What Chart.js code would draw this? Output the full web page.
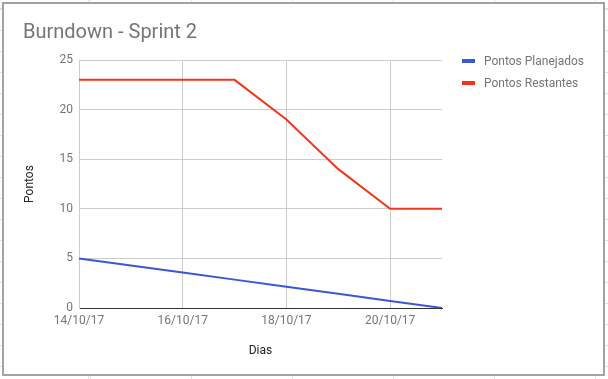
<!DOCTYPE html>
<html>
<head>
<meta charset="utf-8">
<script src="https://cdn.jsdelivr.net/npm/chart.js@4"></script>
<style>
    html, body {
        margin: 0;
        padding: 0;
        width: 608px;
        height: 379px;
        overflow: hidden;
        font-family: Roboto, sans-serif;
    }
    /* spreadsheet cells behind the chart */
    body {
        position: relative;
        background:
            repeating-linear-gradient(to right, #e2e2e2 0 1px, transparent 1px 101px) 90px 0,
            repeating-linear-gradient(to bottom, #e2e2e2 0 1px, transparent 1px 21px) 0 9px,
            #fff;
    }
    #frame {
        position: absolute;
        left: 2px;
        top: 2px;
        width: 603px;
        height: 374px;
        box-sizing: border-box;
        border: 2px solid #a3a3a3;
        background: #fff;
    }
    #burndown {
        position: absolute;
        left: 0;
        top: 0;
    }
    #legend {
        position: absolute;
        left: 462px;
        top: 50px;
        font-size: 12px;
        color: #757575;
    }
    .legend-item {
        display: flex;
        align-items: center;
        height: 22px;
        white-space: nowrap;
    }
    .legend-swatch {
        width: 13px;
        height: 4px;
        margin-right: 9px;
    }
</style>
</head>
<body>
<div id="frame"></div>
<canvas id="burndown" width="608" height="379"></canvas>
<div id="legend"></div>

<script>
/* =========================
   DATA
========================= */

const dias = ["14/10/17", "15/10/17", "16/10/17", "17/10/17", "18/10/17", "19/10/17", "20/10/17", "21/10/17"];
const pontosPlanejados = [5, 4.29, 3.57, 2.86, 2.14, 1.43, 0.71, 0];
const pontosRestantes = [23, 23, 23, 23, 19, 14, 10, 10];
const yTicks = [0, 5, 10, 15, 20, 25];

/* =========================
   CHART
========================= */

Chart.defaults.font.family = "Roboto";
Chart.defaults.font.size = 12;

const chart = new Chart(document.getElementById("burndown"), {
    type: "line",
    data: {
        labels: dias,
        datasets: [
            {
                label: "Pontos Planejados",
                data: pontosPlanejados,
                borderColor: "#3a57d5",
                borderWidth: 2,
                pointRadius: 0,
                tension: 0
            },
            {
                label: "Pontos Restantes",
                data: pontosRestantes,
                borderColor: "#f2361e",
                borderWidth: 2,
                pointRadius: 0,
                tension: 0
            }
        ]
    },
    options: {
        responsive: false,
        animation: false,
        layout: {
            padding: { left: 23, right: 166, top: 0, bottom: 21 }
        },
        plugins: {
            legend: { display: false },
            tooltip: { enabled: false },
            title: {
                display: true,
                text: "Burndown - Sprint 2",
                align: "start",
                color: "#757575",
                font: { size: 20, weight: "normal" },
                padding: { top: 21, bottom: 15 }
            }
        },
        scales: {
            x: {
                type: "category",
                offset: false,
                grid: {
                    color: ctx => ctx.index % 2 === 0 ? "#cccccc" : "transparent",
                    drawTicks: false
                },
                border: { color: "#333333", width: 1 },
                ticks: {
                    autoSkip: false,
                    maxRotation: 0,
                    color: "#757575",
                    padding: 6,
                    callback: function (value, index) {
                        return index % 2 === 0 ? this.getLabelForValue(value) : "";
                    }
                },
                title: {
                    display: true,
                    text: "Dias",
                    color: "#222222",
                    padding: 0
                },
                afterFit: scale => { scale.height = 50; }
            },
            y: {
                min: yTicks[0],
                max: yTicks[yTicks.length - 1],
                afterBuildTicks: scale => {
                    scale.ticks = yTicks.map(v => ({ value: v }));
                },
                grid: {
                    color: ctx => ctx.tick && ctx.tick.value === 0 ? "transparent" : "#cccccc",
                    drawTicks: false
                },
                border: { color: "#cccccc" },
                ticks: {
                    color: "#757575",
                    padding: 6
                },
                title: {
                    display: true,
                    text: "Pontos",
                    color: "#222222",
                    padding: 0
                },
                afterFit: scale => { scale.width = 56; }
            }
        }
    }
});

/* =========================
   LEGEND
========================= */

const legendBox = document.getElementById("legend");

chart.data.datasets.forEach(ds => {
    legendBox.innerHTML += `
        <div class="legend-item">
            <span class="legend-swatch" style="background:${ds.borderColor}"></span>
            <span>${ds.label}</span>
        </div>
    `;
});
</script>
</body>
</html>
